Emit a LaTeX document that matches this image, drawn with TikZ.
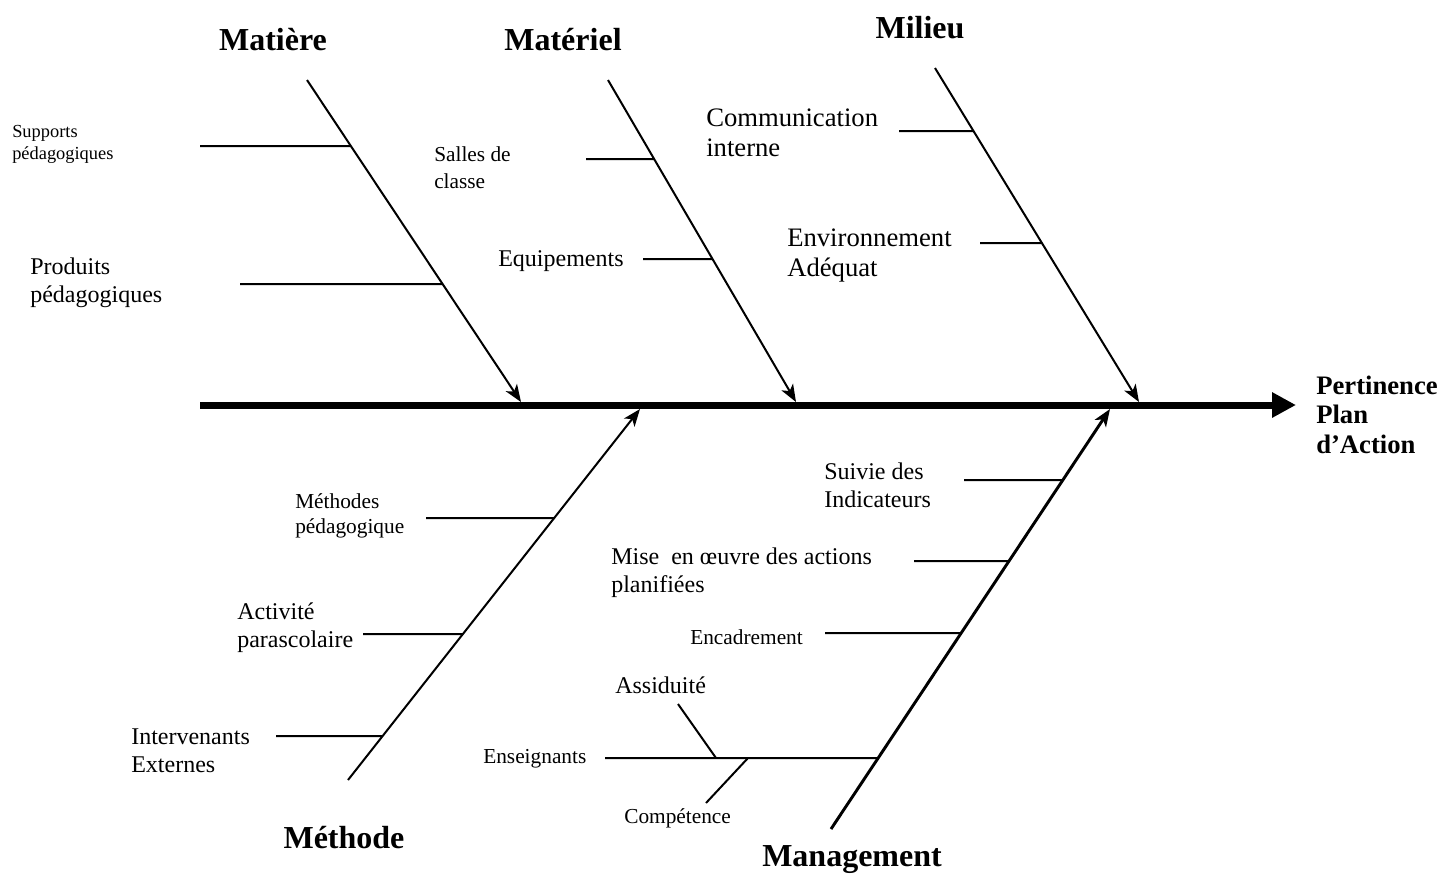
\documentclass[tikz,border=0pt]{standalone}
\usepackage{fontspec}
\setmainfont{Liberation Serif}
\usetikzlibrary{arrows.meta}
\begin{document}
\begin{tikzpicture}[x=0.75pt,y=-0.75pt,
  bone/.style={line width=1.5pt,-{Stealth[length=13pt,width=10pt,inset=3.5pt]}},
  rib/.style={line width=1.5pt},
  spine/.style={line width=5.25pt,-{Triangle[length=18pt,width=18pt]}},
  lbl/.style={anchor=base west,inner sep=0pt,align=left},
  ttl/.style={anchor=base,inner sep=0pt,font=\bfseries\fontsize{24}{28}\selectfont},
  tiny/.style={lbl,font=\fontsize{13.8}{16.5}\selectfont},
  sml/.style={lbl,font=\fontsize{16}{18.5}\selectfont},
  med/.style={lbl,font=\fontsize{18}{21}\selectfont},
  big/.style={lbl,font=\fontsize{20}{22.5}\selectfont}]
\useasboundingbox (0,0) rectangle (1442,876);
% spine
\coordinate (s0) at (200,405);
\coordinate (s1) at (1296,405);
\draw[spine] (s0) -- (s1);
\node[lbl,font=\bfseries\fontsize{20}{22}\selectfont] (eff) at (1316,453) {Pertinence\\Plan\\d’Action};
% bones
\coordinate (mat1) at (307,80);   \coordinate (mat2) at (521,402);
\coordinate (mel1) at (608,80);   \coordinate (mel2) at (796,402);
\coordinate (mil1) at (935,68);   \coordinate (mil2) at (1139,402);
\coordinate (met1) at (348,780);  \coordinate (met2) at (640,409);
\coordinate (man1) at (831,829);  \coordinate (man2) at (1110,409);
\draw[bone] (mat1) -- (mat2);
\draw[bone] (mel1) -- (mel2);
\draw[bone] (mil1) -- (mil2);
\draw[bone] (met1) -- (met2);
\draw[bone,line width=2.2pt] (man1) -- (man2);
% titles
\node[ttl] (tmat) at (273,50) {Matière};
\node[ttl] (tmel) at (563,50) {Matériel};
\node[ttl] (tmil) at (920,38) {Milieu};
\node[ttl] (tmet) at (344,848) {Méthode};
\node[ttl] (tman) at (852,866) {Management};
% Matiere ribs
\coordinate (r1) at (200,146);
\draw[rib] (r1) -- (intersection of mat1--mat2 and 0,146--100,146);
\coordinate (r2) at (240,284);
\draw[rib] (r2) -- (intersection of mat1--mat2 and 0,284--100,284);
\node[tiny] (l1) at (12,159) {Supports\\pédagogiques};
\node[med] (l2) at (30,302) {Produits\\pédagogiques};
% Materiel ribs
\coordinate (r3) at (586,159);
\draw[rib] (r3) -- (intersection of mel1--mel2 and 0,159--100,159);
\coordinate (r4) at (643,259);
\draw[rib] (r4) -- (intersection of mel1--mel2 and 0,259--100,259);
\node[sml,font=\fontsize{16}{20}\selectfont] (l3) at (434,188) {Salles de\\classe};
\node[med] (l4) at (498,266) {Equipements};
% Milieu ribs
\coordinate (r5) at (899,131);
\draw[rib] (r5) -- (intersection of mil1--mil2 and 0,131--100,131);
\coordinate (r6) at (980,243);
\draw[rib] (r6) -- (intersection of mil1--mil2 and 0,243--100,243);
\node[big] (l5) at (706,156) {Communication\\interne};
\node[big] (l6) at (787,276) {Environnement\\Adéquat};
% Methode ribs
\coordinate (r7) at (426,518);
\draw[rib] (r7) -- (intersection of met1--met2 and 0,518--100,518);
\coordinate (r8) at (363,634);
\draw[rib] (r8) -- (intersection of met1--met2 and 0,634--100,634);
\coordinate (r9) at (276,736);
\draw[rib] (r9) -- (intersection of met1--met2 and 0,736--100,736);
\node[sml] (l7) at (295,533) {Méthodes\\pédagogique};
\node[med] (l8) at (237,647) {Activité\\parascolaire};
\node[med] (l9) at (131,772) {Intervenants\\Externes};
% Management ribs
\coordinate (r10) at (964,480);
\draw[rib] (r10) -- (intersection of man1--man2 and 0,480--100,480);
\coordinate (r11) at (914,561);
\draw[rib] (r11) -- (intersection of man1--man2 and 0,561--100,561);
\coordinate (r12) at (825,633);
\draw[rib] (r12) -- (intersection of man1--man2 and 0,633--100,633);
\coordinate (r13) at (605,758);
\draw[rib] (r13) -- (intersection of man1--man2 and 0,758--100,758);
\coordinate (a1) at (678,704);  \coordinate (a2) at (716,758);
\coordinate (c1) at (706,803);  \coordinate (c2) at (748,758);
\draw[rib] (a1) -- (a2);
\draw[rib] (c1) -- (c2);
\node[med] (l10) at (824,507) {Suivie des\\Indicateurs};
\node[med] (l11) at (611,592) {Mise\ \ en œuvre des actions\\planifiées};
\node[sml] (l12) at (690,644) {Encadrement};
\node[med] (l13) at (615,693) {Assiduité};
\node[sml] (l14) at (483,763) {Enseignants};
\node[sml] (l15) at (624,823) {Compétence};
\end{tikzpicture}
\end{document}
